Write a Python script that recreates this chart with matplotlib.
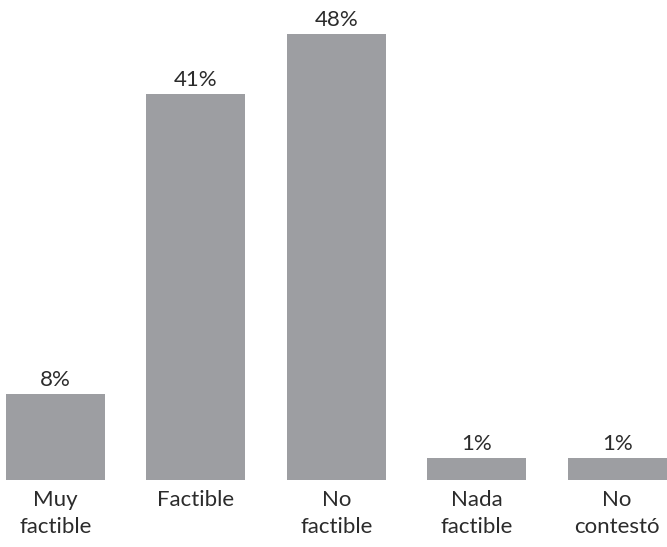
import matplotlib
matplotlib.use("Agg")
import matplotlib.pyplot as plt

categories = ["Muy\nfactible", "Factible", "No\nfactible", "Nada\nfactible", "No\ncontestó"]
heights = [9.25, 41.5, 48.0, 2.4, 2.4]
value_labels = ["8%", "41%", "48%", "1%", "1%"]

bar_color = "#9d9ea2"
text_color = "#2b2b2b"
plt.rcParams['font.family'] = ['Lato', 'DejaVu Sans']

fig = plt.figure(figsize=(6.67, 5.47), dpi=100)
ax = fig.add_axes([0, 67 / 547, 1, 480 / 547])

x = list(range(len(categories)))
bars = ax.bar(x, heights, width=0.705, color=bar_color)
for b, lab in zip(bars, value_labels):
    ax.annotate(lab, (b.get_x() + b.get_width() / 2, b.get_height()),
                xytext=(0, 3), textcoords="offset points",
                ha="center", va="bottom", fontsize=16, fontweight="normal",
                color=text_color)

ax.set_xlim(-0.395, 4.355)
ax.set_ylim(0, 480 / 9.29)
ax.set_xticks(x, categories, fontsize=16, fontweight="normal", color=text_color,
              linespacing=1.45)
ax.tick_params(axis="x", length=0, pad=7)
ax.set_yticks([])
for s in ax.spines.values():
    s.set_visible(False)

fig.savefig("out.png", dpi=100)
